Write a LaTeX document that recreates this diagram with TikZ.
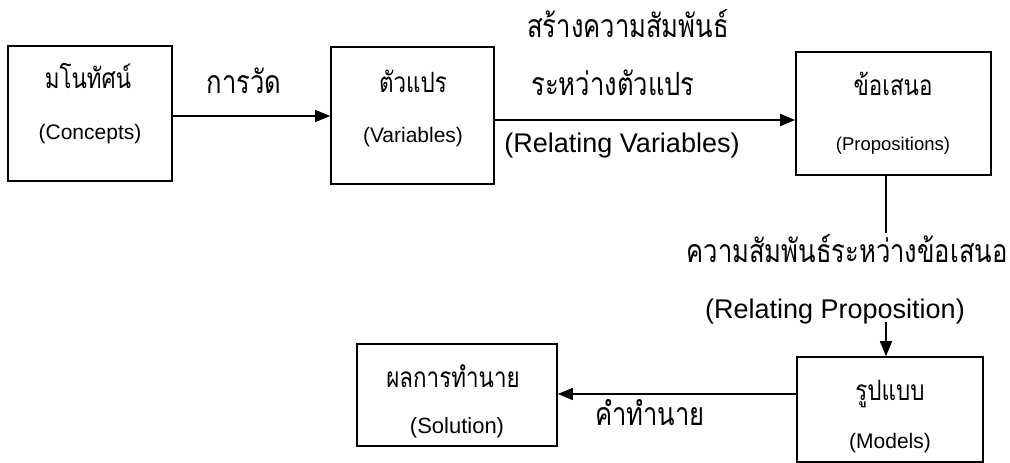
\documentclass[tikz,border=0pt]{standalone}
\usepackage{fontspec}
\setmainfont{Liberation Sans}
\newfontfamily\thaifont[Script=Thai,FakeStretch=0.8]{Loma}
\usetikzlibrary{arrows.meta}
\tikzset{
  box/.style={draw, line width=1.6pt, rectangle, inner sep=0pt},
  arr/.style={line width=1.6pt, -{Triangle[length=15pt,width=12pt]}},
  ln/.style={line width=1.6pt},
  thbig/.style={anchor=base, inner sep=0pt, font=\thaifont\fontsize{32}{36}\selectfont},
  thsmall/.style={anchor=base, inner sep=0pt, font=\thaifont\fontsize{28}{32}\selectfont},
  enbig/.style={anchor=base, inner sep=0pt, font=\fontsize{27}{31}\selectfont},
  ensmall/.style={anchor=base, inner sep=0pt, font=\fontsize{21}{25}\selectfont},
}
\begin{document}
\begin{tikzpicture}[x=1pt, y=-1pt]
\useasboundingbox (0,0) rectangle (1010,463);
% boxes
\node[box, minimum width=164pt, minimum height=135pt] (c1) at (90,113.5) {};
\node[box, minimum width=163pt, minimum height=137pt] (c2) at (412.5,115.5) {};
\node[box, minimum width=195pt, minimum height=123pt] (c3) at (893.5,113.5) {};
\node[box, minimum width=186pt, minimum height=105pt] (c4) at (890,409.5) {};
\node[box, minimum width=200pt, minimum height=102pt] (c5) at (457,395) {};
% box texts
\node[thsmall] (t1a) at (88,88) {มโนทัศน์};
\node[ensmall] (t1b) at (90,139) {(Concepts)};
\node[thsmall] (t2a) at (413,92) {ตัวแปร};
\node[ensmall] (t2b) at (413,142) {(Variables)};
\node[thsmall] (t3a) at (893,95) {ข้อเสนอ};
\node[ensmall, font=\fontsize{18.5}{22}\selectfont] (t3b) at (893,150) {(Propositions)};
\node[thsmall] (t4a) at (890,400) {รูปแบบ};
\node[ensmall] (t4b) at (890,448) {(Models)};
\node[thsmall] (t5a) at (453,387) {ผลการทำนาย};
\node[ensmall, font=\fontsize{22}{26}\selectfont] (t5b) at (457,433) {(Solution)};
% labels
\node[thbig] (l1) at (244,93) {การวัด};
\node[thbig] (l2a) at (628,37) {สร้างความสัมพันธ์};
\node[thbig] (l2b) at (613,95) {ระหว่างตัวแปร};
\node[enbig] (l2c) at (622,152) {(Relating Variables)};
\node[thbig] (l3a) at (847,262) {ความสัมพันธ์ระหว่างข้อเสนอ};
\node[enbig] (l3b) at (835,318) {(Relating Proposition)};
\node[thbig] (l4) at (650,425) {คำทำนาย};
% connectors
\coordinate (p1) at (886,233);
\coordinate (p2) at (886,322);
\draw[arr] (c1.east |- 0,116) -- (c2.west |- 0,116);
\draw[arr] (c2.east |- 0,120) -- (c3.west |- 0,120);
\draw[ln] (c3.south -| p1) -- (p1);
\draw[arr] (p2) -- (c4.north -| p2);
\draw[arr] (c4.west |- 0,394) -- (c5.east |- 0,394);
\end{tikzpicture}
\end{document}
